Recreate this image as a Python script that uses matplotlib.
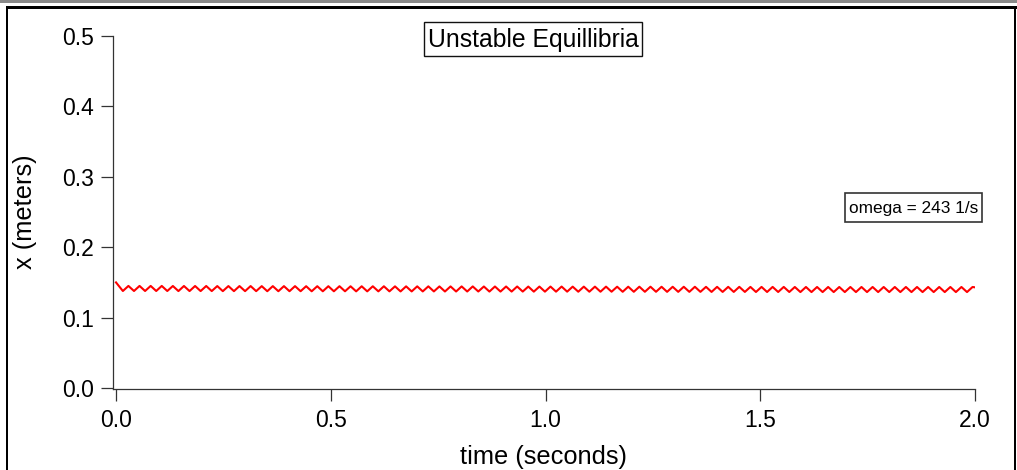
import matplotlib
matplotlib.use("Agg")
import matplotlib.pyplot as plt
from matplotlib.patches import Rectangle

plt.rcParams['font.family'] = ['Liberation Sans', 'DejaVu Sans']

# ---- data: times (s) and positions (m) of the trace's turning points ----
t_points = [0.0000,
    0.0160, 0.0289, 0.0419, 0.0548, 0.0677, 0.0807, 0.0936, 0.1065, 0.1194, 0.1324,
    0.1453, 0.1582, 0.1712, 0.1841, 0.1970, 0.2100, 0.2229, 0.2358, 0.2487, 0.2617,
    0.2746, 0.2875, 0.3005, 0.3134, 0.3263, 0.3393, 0.3522, 0.3651, 0.3780, 0.3910,
    0.4039, 0.4168, 0.4298, 0.4427, 0.4556, 0.4686, 0.4815, 0.4944, 0.5073, 0.5203,
    0.5332, 0.5461, 0.5591, 0.5720, 0.5849, 0.5979, 0.6108, 0.6237, 0.6366, 0.6496,
    0.6625, 0.6754, 0.6884, 0.7013, 0.7142, 0.7272, 0.7401, 0.7530, 0.7659, 0.7789,
    0.7918, 0.8047, 0.8177, 0.8306, 0.8435, 0.8565, 0.8694, 0.8823, 0.8952, 0.9082,
    0.9211, 0.9340, 0.9470, 0.9599, 0.9728, 0.9858, 0.9987, 1.0116, 1.0245, 1.0375,
    1.0504, 1.0633, 1.0763, 1.0892, 1.1021, 1.1151, 1.1280, 1.1409, 1.1538, 1.1668,
    1.1797, 1.1926, 1.2056, 1.2185, 1.2314, 1.2444, 1.2573, 1.2702, 1.2831, 1.2961,
    1.3090, 1.3219, 1.3349, 1.3478, 1.3607, 1.3737, 1.3866, 1.3995, 1.4124, 1.4254,
    1.4383, 1.4512, 1.4642, 1.4771, 1.4900, 1.5030, 1.5159, 1.5288, 1.5417, 1.5547,
    1.5676, 1.5805, 1.5935, 1.6064, 1.6193, 1.6323, 1.6452, 1.6581, 1.6710, 1.6840,
    1.6969, 1.7098, 1.7228, 1.7357, 1.7486, 1.7616, 1.7745, 1.7874, 1.8003, 1.8133,
    1.8262, 1.8391, 1.8521, 1.8650, 1.8779, 1.8909, 1.9038, 1.9167, 1.9296, 1.9426,
    1.9555, 1.9684, 1.9814, 1.9943,
    2.0000]

x_points = [0.150,
    0.1378, 0.1450, 0.1378, 0.1450, 0.1378, 0.1450, 0.1378, 0.1450, 0.1378, 0.1449,
    0.1377, 0.1449, 0.1377, 0.1449, 0.1377, 0.1449, 0.1377, 0.1448, 0.1376, 0.1448,
    0.1376, 0.1448, 0.1376, 0.1448, 0.1376, 0.1447, 0.1375, 0.1447, 0.1375, 0.1447,
    0.1375, 0.1447, 0.1375, 0.1446, 0.1374, 0.1446, 0.1374, 0.1446, 0.1374, 0.1446,
    0.1374, 0.1445, 0.1373, 0.1445, 0.1373, 0.1445, 0.1373, 0.1445, 0.1373, 0.1444,
    0.1372, 0.1444, 0.1372, 0.1444, 0.1372, 0.1444, 0.1372, 0.1443, 0.1371, 0.1443,
    0.1371, 0.1443, 0.1371, 0.1443, 0.1371, 0.1442, 0.1370, 0.1442, 0.1370, 0.1442,
    0.1370, 0.1442, 0.1370, 0.1441, 0.1369, 0.1441, 0.1369, 0.1441, 0.1369, 0.1441,
    0.1369, 0.1440, 0.1368, 0.1440, 0.1368, 0.1440, 0.1368, 0.1440, 0.1368, 0.1439,
    0.1367, 0.1439, 0.1367, 0.1439, 0.1367, 0.1439, 0.1367, 0.1438, 0.1366, 0.1438,
    0.1366, 0.1438, 0.1366, 0.1438, 0.1366, 0.1437, 0.1365, 0.1437, 0.1365, 0.1437,
    0.1365, 0.1437, 0.1365, 0.1436, 0.1364, 0.1436, 0.1364, 0.1436, 0.1364, 0.1436,
    0.1364, 0.1435, 0.1363, 0.1435, 0.1363, 0.1435, 0.1363, 0.1435, 0.1363, 0.1435,
    0.1363, 0.1435, 0.1363, 0.1435, 0.1363, 0.1435, 0.1363, 0.1435, 0.1363, 0.1435,
    0.1363, 0.1435, 0.1363, 0.1435, 0.1363, 0.1435, 0.1363, 0.1435, 0.1363, 0.1435,
    0.1363, 0.1435, 0.1363, 0.1435,
    0.1430]

x_ticks = [0.0, 0.5, 1.0, 1.5, 2.0]
y_ticks = [0.0, 0.1, 0.2, 0.3, 0.4, 0.5]
title_text = "Unstable Equillibria"
annotation_text = "omega = 243 1/s"
x_label = "time (seconds)"
y_label = "x (meters)"

# ---- figure ----
W, H = 1017, 470
fig = plt.figure(figsize=(W / 100, H / 100), dpi=100)

def fx(px):
    return px / W

def fy(py):
    return 1 - py / H

# axes placement (pixels): left 113, right 975, top 36, bottom 389
ax = fig.add_axes([fx(113), fy(389), fx(975) - fx(113), fy(36) - fy(389)])
ax.plot(t_points, x_points, color='#ff0000', lw=1.5, solid_joinstyle='round')

ax.set_xlim(-0.007, 2.0)
ax.set_ylim(-0.0014, 0.5)
ax.set_xticks(x_ticks)
ax.set_yticks(y_ticks)
ax.set_xticklabels([f"{v:.1f}" for v in x_ticks])
ax.set_yticklabels([f"{v:.1f}" for v in y_ticks])

for s in ['top', 'right']:
    ax.spines[s].set_visible(False)
for s in ['left', 'bottom']:
    ax.spines[s].set_color('#333333')
    ax.spines[s].set_linewidth(0.9)

ax.tick_params(axis='both', direction='out', length=8.6, width=0.9, color='#333333',
               labelsize=16.5, labelcolor='#000000')
ax.tick_params(axis='x', pad=6)
ax.tick_params(axis='y', pad=5)

fig.text(fx(544), fy(457), x_label, ha='center', va='center', fontsize=18.3, color='#000000')
fig.text(fx(25), fy(212), y_label, ha='center', va='center', rotation=90, fontsize=18.3,
         color='#000000')

# title box
fig.add_artist(Rectangle((fx(424), fy(56)), fx(642) - fx(424), fy(22) - fy(56),
                         transform=fig.transFigure, facecolor='white', edgecolor='#111111',
                         lw=1.0))
fig.text(fx(533), fy(40), title_text, ha='center', va='center', fontsize=17.8, color='#000000')

# annotation box
fig.add_artist(Rectangle((fx(845), fy(222)), fx(982) - fx(845), fy(193) - fy(222),
                         transform=fig.transFigure, facecolor='white', edgecolor='#333333',
                         lw=1.2))
fig.text(fx(913.5), fy(208), annotation_text, ha='center', va='center', fontsize=12.4,
         color='#000000')

# window frame
fig.add_artist(Rectangle((0, fy(2.5)), 1, fy(0) - fy(2.5), transform=fig.transFigure,
                         facecolor='#8a8a8a', edgecolor='none'))
fig.add_artist(Rectangle((fx(6), fy(8.5)), 1 - fx(6), fy(6) - fy(8.5), transform=fig.transFigure,
                         facecolor='black', edgecolor='none'))
fig.add_artist(Rectangle((fx(6), 0), fx(7.6) - fx(6), fy(6), transform=fig.transFigure,
                         facecolor='black', edgecolor='none'))
fig.add_artist(Rectangle((fx(1014), 0), fx(1015.5) - fx(1014), fy(6), transform=fig.transFigure,
                         facecolor='black', edgecolor='none'))

fig.savefig("out.png", dpi=100)
